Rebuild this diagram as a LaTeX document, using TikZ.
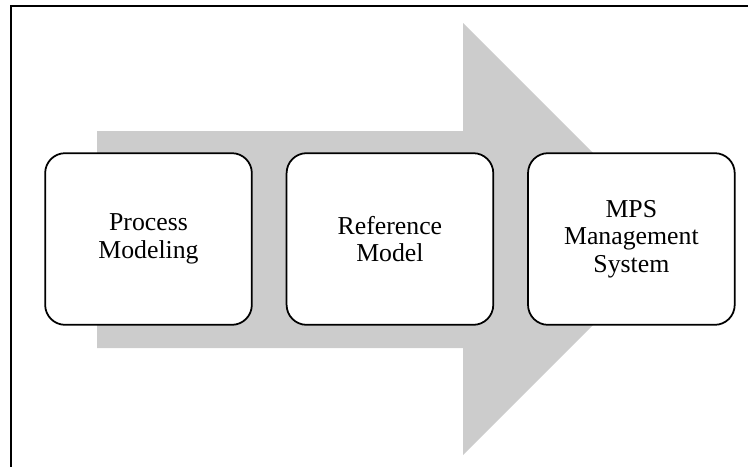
\documentclass[tikz,border=0pt]{standalone}
\usepackage{fontspec}
\setmainfont{Liberation Serif}
\usepackage{xcolor}
\usetikzlibrary{positioning}

\begin{document}
\begin{tikzpicture}[x=0.03cm, y=-0.03cm, node distance=0.99cm]
    \tikzstyle{stage} = [rectangle, rounded corners=0.6cm, draw, line width=1.5pt, fill=white, minimum width=6.2cm, minimum height=5.15cm, text width=5.5cm, align=center, font=\fontsize{22}{23.5}\selectfont]
    \useasboundingbox (0,0) rectangle (748,466);

    % Frame
    \draw[line width=1.6pt] (11,470) -- (11,6) -- (752,6);

    % Big arrow
    \fill[black!20] (97,131) -- (463,131) -- (463,23) -- (679,239) -- (463,455) -- (463,348) -- (97,348) -- cycle;

    % Stages
    \node [stage] (modeling) at (148.5,239) {Process\\ Modeling};
    \node [stage, right=of modeling] (refmodel) {Reference\\ Model};
    \node [stage, right=of refmodel] (mps) {MPS\\ Management\\ System};
\end{tikzpicture}
\end{document}
